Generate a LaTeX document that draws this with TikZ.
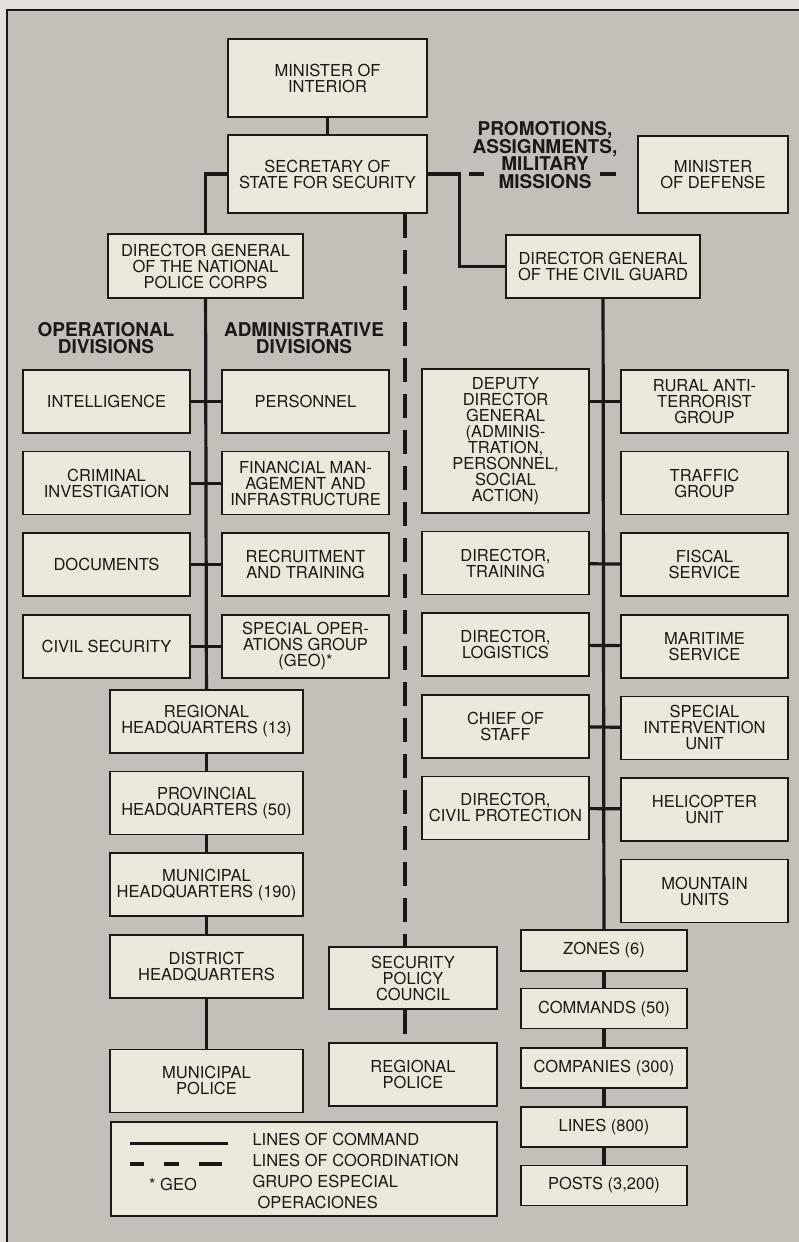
\documentclass[tikz,border=0pt]{standalone}
\usepackage{fontspec}
\setmainfont{TeX Gyre Heros}
\usetikzlibrary{positioning}
\definecolor{outerbg}{HTML}{E3E1D9}
\definecolor{bggray}{HTML}{C2C0B9}
\definecolor{boxfill}{HTML}{EBE8DE}
\definecolor{ink}{HTML}{1C1816}

\begin{document}
\begin{tikzpicture}[
    x=1pt, y=-1pt,
    node distance=17pt,
    box/.style={rectangle, draw=ink, fill=boxfill, line width=1.6pt, text=ink, align=center,
      minimum width=167pt, minimum height=63pt, inner sep=2pt,
      font=\fontsize{16.5}{16}\selectfont},
    heading/.style={align=center, text=ink, font=\fontsize{19}{17.5}\selectfont\bfseries},
    cmd/.style={draw=ink, line width=3.2pt},
    coordline/.style={draw=ink, line width=3.5pt, dash pattern=on 24pt off 12pt}
  ]
    \useasboundingbox (0,0) rectangle (799,1242);
    \fill[outerbg] (0,0) rectangle (799,1242);
    \fill[bggray] (7,10) rectangle (799,1242);
    \draw[ink, line width=1.5pt] (7,1242) -- (7,10) -- (799,10);

    % top of the chart
    \node[box, minimum width=199pt, minimum height=78pt] (mint) at (327.5,78) {MINISTER OF\\INTERIOR};
    \node[box, minimum width=199pt, minimum height=78pt] (sec) at (327.5,174) {SECRETARY OF\\STATE FOR SECURITY};
    \node[box, minimum width=150pt, minimum height=77pt] (mdef) at (713,174.5) {MINISTER\\OF DEFENSE};
    \node[heading] (promo) at (545,155) {PROMOTIONS,\\ASSIGNMENTS,\\MILITARY\\MISSIONS};
    \node[box, minimum width=195pt, minimum height=64pt] (dgnp) at (205.5,266) {DIRECTOR GENERAL\\OF THE NATIONAL\\POLICE CORPS};
    \node[box, minimum width=194pt, minimum height=63pt] (dgcg) at (603,266.5) {DIRECTOR GENERAL\\OF THE CIVIL GUARD};

    % national police corps
    \node[heading] (ophead) at (106,338) {OPERATIONAL\\DIVISIONS};
    \node[heading] (adhead) at (304,338) {ADMINISTRATIVE\\DIVISIONS};
    \node[box] (intel) at (106.5,401.5) {INTELLIGENCE};
    \node[box, below=of intel] (crim) {CRIMINAL\\INVESTIGATION};
    \node[box, below=of crim] (docs) {DOCUMENTS};
    \node[box, below=of docs] (civsec) {CIVIL SECURITY};
    \node[box] (pers) at (305.5,401.5) {PERSONNEL};
    \node[box, below=of pers] (finance) {FINANCIAL MAN-\\AGEMENT AND\\INFRASTRUCTURE};
    \node[box, below=of finance] (recruit) {RECRUITMENT\\AND TRAINING};
    \node[box, below=of recruit] (geo) {SPECIAL OPER-\\ATIONS GROUP\\(GEO)*};
    \node[box, minimum width=193pt] (rhq) at (206.5,721.5) {REGIONAL\\HEADQUARTERS (13)};
    \node[box, minimum width=193pt, below=of rhq] (phq) {PROVINCIAL\\HEADQUARTERS (50)};
    \node[box, minimum width=193pt, below=of phq] (mhq) {MUNICIPAL\\HEADQUARTERS (190)};
    \node[box, minimum width=193pt, below=of mhq] (dhq) {DISTRICT\\HEADQUARTERS};
    \node[box, minimum width=193pt, below=50pt of dhq] (mpol) {MUNICIPAL\\POLICE};
    \node[box, minimum width=168pt, minimum height=62pt] (spc) at (413,978) {SECURITY\\POLICY\\COUNCIL};
    \node[box, minimum width=168pt] (rpol) at (413,1074.5) {REGIONAL\\POLICE};

    % civil guard
    \node[box, minimum height=144pt] (ddg) at (505.5,441) {DEPUTY\\DIRECTOR\\GENERAL\\(ADMINIS-\\TRATION,\\PERSONNEL,\\SOCIAL\\ACTION)};
    \node[box, below=of ddg] (dtrain) {DIRECTOR,\\TRAINING};
    \node[box, below=of dtrain] (dlog) {DIRECTOR,\\LOGISTICS};
    \node[box, below=of dlog] (chief) {CHIEF OF\\STAFF};
    \node[box, below=of chief] (dcivil) {DIRECTOR,\\CIVIL PROTECTION};
    \node[box] (rural) at (704.5,401.5) {RURAL ANTI-\\TERRORIST\\GROUP};
    \node[box, below=of rural] (traffic) {TRAFFIC\\GROUP};
    \node[box, below=of traffic] (fiscal) {FISCAL\\SERVICE};
    \node[box, below=of fiscal] (marit) {MARITIME\\SERVICE};
    \node[box, below=of marit] (siu) {SPECIAL\\INTERVENTION\\UNIT};
    \node[box, below=of siu] (heli) {HELICOPTER\\UNIT};
    \node[box, below=of heli] (mount) {MOUNTAIN\\UNITS};
    \node[box, minimum width=166pt, minimum height=41pt] (zones) at (604,950.5) {ZONES (6)};
    \node[box, minimum width=166pt, minimum height=40pt, below=16pt of zones] (cmds) {COMMANDS (50)};
    \node[box, minimum width=166pt, minimum height=40pt, below=18pt of cmds] (comp) {COMPANIES (300)};
    \node[box, minimum width=166pt, minimum height=40pt, below=of comp] (lines) {LINES (800)};
    \node[box, minimum width=166pt, minimum height=40pt, below=of lines] (posts) {POSTS (3,200)};

    % legend
    \node[box, minimum width=386pt, minimum height=94pt] (legend) at (304,1169) {};
    \node[text=ink, font=\fontsize{16.5}{16}\selectfont] (geonote) at (173,1184) {* GEO};
    \node[text=ink, anchor=west, align=left, font=\fontsize{16.5}{21}\selectfont] (legtext) at (249,1171) {LINES OF COMMAND\\LINES OF COORDINATION\\GRUPO ESPECIAL\\\hspace*{5pt}OPERACIONES};
    \draw[cmd] ([xshift=20pt,yshift=-22pt]legend.north west) -- ++(98,0);
    \draw[coordline, dash pattern=on 14pt off 20pt on 15pt off 20pt on 23pt off 20pt] ([xshift=20pt,yshift=-43pt]legend.north west) -- ++(92,0);

    % lines of command
    \draw[cmd] (mint) -- (sec);
    \draw[cmd] (sec.west) -| (dgnp.north);
    \draw[cmd] (sec.east) -- ++(32,0) |- (dgcg.west);
    \draw[cmd] (dgnp) -- (rhq);
    \draw[cmd] (rhq) -- (phq);
    \draw[cmd] (phq) -- (mhq);
    \draw[cmd] (mhq) -- (dhq);
    \draw[cmd] (dhq) -- (mpol);
    \draw[cmd] (intel) -- (pers);
    \draw[cmd] (crim) -- (finance);
    \draw[cmd] (docs) -- (recruit);
    \draw[cmd] (civsec) -- (geo);
    \draw[cmd] (dgcg) -- (zones);
    \draw[cmd] (zones) -- (cmds);
    \draw[cmd] (cmds) -- (comp);
    \draw[cmd] (comp) -- (lines);
    \draw[cmd] (lines) -- (posts);
    \draw[cmd] (ddg.east |- rural.west) -- (rural.west);
    \draw[cmd] (dtrain) -- (fiscal);
    \draw[cmd] (dlog) -- (marit);
    \draw[cmd] (chief) -- (siu);
    \draw[cmd] (dcivil) -- (heli);

    % lines of coordination
    \coordinate (coordx) at (405,0);
    \draw[coordline, dash pattern=on 0pt off 41pt on 15pt off 116pt on 16pt off 40pt] (sec.east) -- (sec.east -| mdef.west);
    \draw[coordline] (sec.south -| coordx) -- (spc.north -| coordx);
    \draw[coordline] (spc.south -| coordx) -- (rpol.north -| coordx);
  \end{tikzpicture}
\end{document}
